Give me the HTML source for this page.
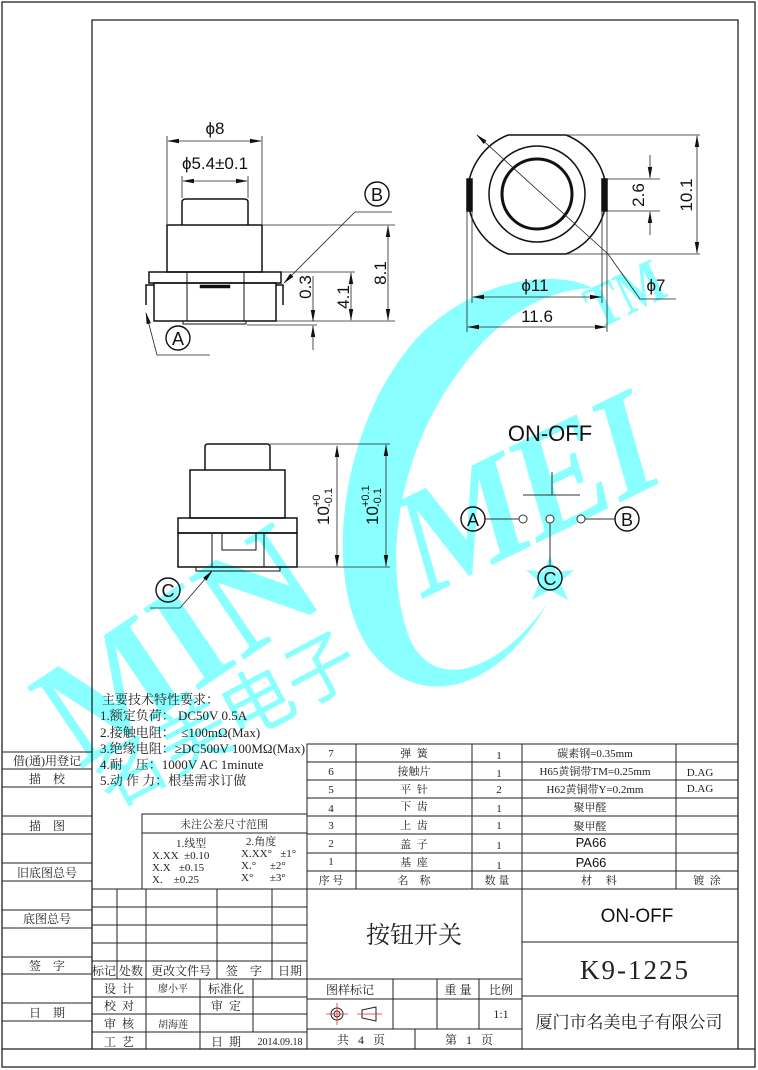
<!DOCTYPE html>
<html><head><meta charset="utf-8"><style>
html,body{margin:0;padding:0;background:#fff;}
svg{display:block;white-space:pre;}
text{white-space:pre;}
.s{font-family:"Liberation Sans",sans-serif;fill:#111;}
.c{font-family:"Liberation Serif","Noto Serif CJK SC",serif;fill:#222;}
.w{font-family:"Liberation Serif",serif;font-weight:bold;fill:#8affff;}
</style></head><body>
<svg width="758" height="1070" viewBox="0 0 758 1070" xmlns="http://www.w3.org/2000/svg" xml:space="preserve">
<defs>
<marker id="ar" markerWidth="12" markerHeight="6" refX="11" refY="3" orient="auto-start-reverse" markerUnits="userSpaceOnUse"><path d="M0,0.8 L12,3 L0,5.2 Z" fill="#111"/></marker>
</defs>
<!-- watermark -->
<g>
<path d="M548,602 C500,690 420,715 370,650 C320,580 340,420 420,335 C480,275 560,270 592,288 C545,290 500,315 460,370 C400,450 380,560 410,640 C440,700 510,660 548,602 Z" fill="#8affff"/>
<text class="w" x="0" y="0" font-size="150" textLength="300" lengthAdjust="spacingAndGlyphs" transform="translate(80,770) rotate(-34)">MIN</text>
<text class="w" x="0" y="0" font-size="150" textLength="270" lengthAdjust="spacingAndGlyphs" transform="translate(420,600) rotate(-26) skewX(-10)">MEI</text>
<text class="w" x="0" y="0" font-size="62" textLength="80" lengthAdjust="spacingAndGlyphs" transform="translate(598,330) rotate(-26)">TM</text>
<text x="0" y="0" font-size="72" fill="#8affff" font-family="'Noto Sans CJK SC',sans-serif" transform="translate(110,810) rotate(-28)">名美电子</text>
<polygon points="550,555 556,572 574,570 560,582 568,600 550,590 532,600 540,582 526,570 544,572" fill="#8affff"/>
</g>

<g stroke="#222" fill="none" stroke-width="1">
<rect x="2" y="2" width="753" height="1065" stroke-width="1.3"/>
<polyline points="92,1049 92,20 738,20 738,1049" stroke-width="1.3"/>
<line x1="2" y1="1049" x2="755" y2="1049" stroke-width="1.3"/>
<line x1="2" y1="752" x2="92" y2="752"/><line x1="2" y1="769" x2="92" y2="769"/>
<line x1="2" y1="787" x2="92" y2="787"/><line x1="2" y1="816" x2="92" y2="816"/>
<line x1="2" y1="834" x2="92" y2="834"/><line x1="2" y1="863" x2="92" y2="863"/>
<line x1="2" y1="881" x2="92" y2="881"/><line x1="2" y1="910" x2="92" y2="910"/>
<line x1="2" y1="928" x2="92" y2="928"/><line x1="2" y1="957" x2="92" y2="957"/>
<line x1="2" y1="974" x2="92" y2="974"/><line x1="2" y1="1003" x2="92" y2="1003"/>
<line x1="2" y1="1021" x2="92" y2="1021"/>
<rect x="307" y="744" width="431" height="145"/>
<line x1="307" y1="762" x2="738" y2="762"/><line x1="307" y1="780" x2="738" y2="780"/>
<line x1="307" y1="798" x2="738" y2="798"/><line x1="307" y1="816" x2="738" y2="816"/>
<line x1="307" y1="834" x2="738" y2="834"/><line x1="307" y1="853" x2="738" y2="853"/>
<line x1="307" y1="871" x2="738" y2="871"/>
<line x1="356" y1="744" x2="356" y2="889"/><line x1="472" y1="744" x2="472" y2="889"/>
<line x1="522" y1="744" x2="522" y2="1049"/><line x1="676" y1="744" x2="676" y2="889"/>
<polyline points="142,889 142,814 307,814"/><line x1="142" y1="833" x2="307" y2="833"/>
<line x1="92" y1="889" x2="738" y2="889"/>
<line x1="92" y1="907" x2="307" y2="907"/><line x1="92" y1="925" x2="307" y2="925"/>
<line x1="92" y1="943" x2="307" y2="943"/><line x1="92" y1="961" x2="307" y2="961"/>
<line x1="92" y1="979" x2="307" y2="979"/><line x1="92" y1="997" x2="307" y2="997"/>
<line x1="92" y1="1014" x2="307" y2="1014"/><line x1="92" y1="1032" x2="307" y2="1032"/>
<line x1="117" y1="889" x2="117" y2="979"/><line x1="146" y1="889" x2="146" y2="1049"/>
<line x1="217" y1="889" x2="217" y2="979"/><line x1="272" y1="889" x2="272" y2="979"/>
<line x1="200" y1="979" x2="200" y2="1049"/><line x1="253" y1="979" x2="253" y2="1032"/>
<line x1="307" y1="889" x2="307" y2="1049"/>
<line x1="307" y1="979" x2="522" y2="979"/><line x1="307" y1="999" x2="522" y2="999"/>
<line x1="307" y1="1029" x2="522" y2="1029"/>
<line x1="393" y1="979" x2="393" y2="1029"/><line x1="437" y1="979" x2="437" y2="1029"/>
<line x1="479" y1="979" x2="479" y2="1029"/><line x1="415" y1="1029" x2="415" y2="1049"/>
<line x1="522" y1="942" x2="738" y2="942"/><line x1="522" y1="996" x2="738" y2="996"/>
</g>

<g stroke="#222" fill="none">
<circle cx="337" cy="1014" r="6"/><circle cx="337" cy="1014" r="3"/>
<path d="M362,1010 L376,1007 L376,1021 L362,1018 Z"/>
</g>
<g stroke="#e22" stroke-width="0.8"><line x1="326" y1="1014" x2="348" y2="1014"/><line x1="337" y1="1003" x2="337" y2="1025"/><line x1="357" y1="1014" x2="382" y2="1014"/></g>

<g stroke="#111" fill="none" stroke-width="1.5">
<path d="M182,225 L182,202 Q182,199 186,199 L244,199 Q248,199 248,202 L248,225"/>
<rect x="167" y="225" width="95" height="47"/>
<rect x="149" y="272" width="132" height="11"/>
<rect x="154" y="283" width="122" height="38"/>
<line x1="187" y1="272" x2="187" y2="321" stroke-width="1"/><line x1="244" y1="272" x2="244" y2="321" stroke-width="1"/>
<rect x="200" y="285" width="30" height="3" fill="#111" stroke-width="0.5"/>
<path d="M183,321 L183,324 L246,324 L246,321" stroke-width="1"/>
<path d="M154,285 L146,285 L146,305" /><path d="M276,285 L283,285 L283,305"/>
</g>
<g stroke="#222" fill="none" stroke-width="0.8">
<line x1="167" y1="224" x2="167" y2="136"/><line x1="262" y1="224" x2="262" y2="136"/>
<line x1="168" y1="141" x2="261" y2="141" marker-start="url(#ar)" marker-end="url(#ar)"/>
<line x1="182" y1="198" x2="182" y2="176"/><line x1="248" y1="198" x2="248" y2="176"/>
<line x1="183" y1="181" x2="247" y2="181" marker-start="url(#ar)" marker-end="url(#ar)"/>
<line x1="262" y1="225" x2="395" y2="225"/><line x1="281" y1="272" x2="355" y2="272"/>
<line x1="276" y1="321" x2="395" y2="321"/><line x1="247" y1="325" x2="317" y2="325"/>
<line x1="388" y1="226" x2="388" y2="320" marker-start="url(#ar)" marker-end="url(#ar)"/>
<line x1="351" y1="273" x2="351" y2="320" marker-start="url(#ar)" marker-end="url(#ar)"/>
<line x1="313" y1="276" x2="313" y2="321" marker-end="url(#ar)"/>
<line x1="313" y1="350" x2="313" y2="326" marker-end="url(#ar)"/>
<polyline points="392,212 355,212 284,283" marker-end="url(#ar)"/>
<polyline points="210,355 157,355 146,313" marker-end="url(#ar)"/>
</g>
<g class="s" font-size="17">
<text x="215" y="134" text-anchor="middle">ϕ8</text>
<text x="215" y="169" text-anchor="middle">ϕ5.4±0.1</text>
<text transform="translate(386,273) rotate(-90)" text-anchor="middle">8.1</text>
<text transform="translate(349,297) rotate(-90)" text-anchor="middle">4.1</text>
<text transform="translate(311,287) rotate(-90)" text-anchor="middle">0.3</text>
</g>
<g stroke="#111" fill="none" stroke-width="1.4">
<circle cx="377" cy="194" r="12"/><circle cx="178" cy="338" r="12"/>
</g>
<g class="s" font-size="18" text-anchor="middle"><text x="377" y="201">B</text><text x="178" y="345">A</text></g>

<g stroke="#111" fill="none" stroke-width="1.5">
<path d="M508,135 L566,135 A64,64 0 0 1 566,254 L508,254 A64,64 0 0 1 508,135 Z"/>
<circle cx="537" cy="194" r="48"/>
<circle cx="537" cy="194" r="35" stroke-width="3"/>
<rect x="467" y="179" width="5" height="32" fill="#111"/><rect x="602" y="179" width="5" height="32" fill="#111"/>
</g>
<g stroke="#222" fill="none" stroke-width="0.8">
<line x1="607" y1="179" x2="660" y2="179"/><line x1="607" y1="211" x2="660" y2="211"/>
<line x1="650" y1="155" x2="650" y2="178" marker-end="url(#ar)"/><line x1="650" y1="235" x2="650" y2="212" marker-end="url(#ar)"/>
<line x1="567" y1="135" x2="700" y2="135"/><line x1="567" y1="254" x2="700" y2="254"/>
<line x1="697" y1="136" x2="697" y2="253" marker-start="url(#ar)" marker-end="url(#ar)"/>
<line x1="477" y1="135" x2="608" y2="254" marker-start="url(#ar)"/><polyline points="608,254 640,299 676,299"/>
<line x1="472" y1="211" x2="472" y2="303"/><line x1="602" y1="211" x2="602" y2="303"/>
<line x1="473" y1="297" x2="601" y2="297" marker-start="url(#ar)" marker-end="url(#ar)"/>
<line x1="467" y1="211" x2="467" y2="332"/><line x1="607" y1="211" x2="607" y2="332"/>
<line x1="468" y1="327" x2="606" y2="327" marker-start="url(#ar)" marker-end="url(#ar)"/>
</g>
<g class="s" font-size="17">
<text x="535" y="291" text-anchor="middle">ϕ11</text>
<text x="537" y="322" text-anchor="middle">11.6</text>
<text x="656" y="291" text-anchor="middle">ϕ7</text>
<text transform="translate(644,195) rotate(-90)" text-anchor="middle">2.6</text>
<text transform="translate(692,195) rotate(-90)" text-anchor="middle">10.1</text>
</g>

<g stroke="#111" fill="none" stroke-width="1.5">
<path d="M205,470 L205,447 Q205,444 208,444 L267,444 Q270,444 270,447 L270,470"/>
<rect x="190" y="470" width="95" height="48"/>
<rect x="178" y="518" width="119" height="15"/>
<rect x="178" y="533" width="119" height="34"/>
<line x1="212" y1="533" x2="212" y2="567" stroke-width="1"/><line x1="264" y1="533" x2="264" y2="567" stroke-width="1"/>
<rect x="222" y="533" width="34" height="17" stroke-width="1"/>
<rect x="196" y="567" width="84" height="4" stroke-width="1"/>
</g>
<g stroke="#222" fill="none" stroke-width="0.8">
<line x1="270" y1="444" x2="390" y2="444"/><line x1="297" y1="567" x2="390" y2="567"/>
<line x1="337" y1="446" x2="337" y2="566" marker-start="url(#ar)" marker-end="url(#ar)"/>
<line x1="386" y1="445" x2="386" y2="566" marker-start="url(#ar)" marker-end="url(#ar)"/>
<polyline points="150,608 180,608 212,571" marker-end="url(#ar)"/>
</g>
<g class="s">
<text transform="translate(329,525) rotate(-90)" font-size="17">10</text>
<text transform="translate(320,507) rotate(-90)" font-size="11">+0</text>
<text transform="translate(332,507) rotate(-90)" font-size="11">-0.1</text>
<text transform="translate(378,525) rotate(-90)" font-size="17">10</text>
<text transform="translate(369,507) rotate(-90)" font-size="11">+0.1</text>
<text transform="translate(381,507) rotate(-90)" font-size="11">-0.1</text>
</g>
<circle cx="168" cy="590" r="12" stroke="#111" stroke-width="1.4" fill="none"/>
<text class="s" x="168" y="597" font-size="18" text-anchor="middle">C</text>

<text class="s" x="550" y="441" font-size="22" text-anchor="middle">ON-OFF</text>
<g stroke="#333" fill="none" stroke-width="1">
<line x1="552" y1="472" x2="552" y2="495"/><line x1="523" y1="495" x2="580" y2="495"/>
<line x1="485" y1="519" x2="519" y2="519"/><line x1="585" y1="519" x2="615" y2="519"/>
<line x1="550" y1="523" x2="550" y2="565"/>
<circle cx="523" cy="519" r="4" fill="#fff"/><circle cx="550" cy="519" r="4" fill="#fff"/><circle cx="581" cy="519" r="4" fill="#fff"/>
</g>
<g stroke="#111" fill="none" stroke-width="1.4"><circle cx="473" cy="519" r="12"/><circle cx="627" cy="519" r="12"/><circle cx="550" cy="578" r="12"/></g>
<g class="s" font-size="18" text-anchor="middle"><text x="473" y="526">A</text><text x="627" y="526">B</text><text x="550" y="585">C</text></g>

<g class="c" font-size="13">
<text x="102" y="704">主要技术特性要求：</text>
<text x="100" y="720">1.额定负荷： DC50V 0.5A</text>
<text x="100" y="737">2.接触电阻：  ≤100mΩ(Max)</text>
<text x="100" y="753">3.绝缘电阻：≥DC500V 100MΩ(Max)</text>
<text x="100" y="769">4.耐    压：1000V AC 1minute</text>
<text x="100" y="785">5.动 作 力：根基需求订做</text>
</g>
<g class="c" font-size="11">
<text x="224" y="828" text-anchor="middle">未注公差尺寸范围</text>
<text x="176" y="847">1.线型</text><text x="246" y="845">2.角度</text>
<text x="152" y="859">X.XX  ±0.10</text><text x="241" y="857">X.XX°   ±1°</text>
<text x="152" y="871">X.X   ±0.15</text><text x="241" y="869">X.°     ±2°</text>
<text x="152" y="883">X.    ±0.25</text><text x="241" y="881">X°      ±3°</text>
</g>
<g class="c" font-size="12" text-anchor="middle">
<text x="47" y="765">借(通)用登记</text><text x="47" y="783">描    校</text>
<text x="47" y="830">描    图</text><text x="47" y="877">旧底图总号</text>
<text x="47" y="923">底图总号</text><text x="47" y="970">签    字</text>
<text x="47" y="1017">日    期</text>
</g>
<g class="c" font-size="12" text-anchor="middle">
<text x="104" y="975">标记</text><text x="131" y="975">处数</text><text x="181" y="975">更改文件号</text>
<text x="244" y="975">签    字</text><text x="290" y="975">日期</text>
<text x="119" y="993">设  计</text><text x="226" y="993">标准化</text>
<text x="119" y="1010">校  对</text><text x="226" y="1010">审  定</text>
<text x="119" y="1028">审  核</text><text x="119" y="1046">工  艺</text><text x="226" y="1046">日  期</text>
</g>
<g class="c" font-size="10" text-anchor="middle">
<text x="173" y="992">廖小平</text><text x="173" y="1028">胡海莲</text><text x="280" y="1045">2014.09.18</text>
</g>
<g class="c" font-size="11" text-anchor="middle">
<text x="331" y="757">7</text><text x="414" y="757">弹  簧</text><text x="499" y="759">1</text><text x="595" y="757">碳素钢=0.35mm</text>
<text x="331" y="775">6</text><text x="414" y="775">接触片</text><text x="499" y="777">1</text><text x="595" y="775">H65黄铜带TM=0.25mm</text><text x="700" y="776">D.AG</text>
<text x="331" y="793">5</text><text x="414" y="793">平  针</text><text x="499" y="793">2</text><text x="595" y="793">H62黄铜带Y=0.2mm</text><text x="700" y="792">D.AG</text>
<text x="331" y="812">4</text><text x="414" y="810">下  齿</text><text x="499" y="812">1</text><text x="590" y="811">聚甲醛</text>
<text x="331" y="829">3</text><text x="414" y="829">上  齿</text><text x="499" y="829">1</text><text x="590" y="830">聚甲醛</text>
<text x="331" y="847">2</text><text x="414" y="848">盖  子</text><text x="499" y="849">1</text>
<text x="331" y="865">1</text><text x="414" y="866">基  座</text><text x="499" y="869">1</text>
<text x="331" y="884">序 号</text><text x="414" y="884">名    称</text><text x="497" y="884">数 量</text><text x="599" y="884">材     料</text><text x="707" y="884">镀  涂</text>
</g>
<g class="s" font-size="13" text-anchor="middle"><text x="591" y="847">PA66</text><text x="591" y="867">PA66</text></g>
<text class="c" x="414" y="943" font-size="24" text-anchor="middle">按钮开关</text>
<text class="s" x="637" y="922" font-size="19" text-anchor="middle">ON-OFF</text>
<text class="c" x="635" y="979" font-size="27" text-anchor="middle" letter-spacing="2">K9-1225</text>
<text class="c" x="629" y="1028" font-size="17" text-anchor="middle">厦门市名美电子有限公司</text>
<g class="c" font-size="12" text-anchor="middle">
<text x="350" y="994">图样标记</text><text x="458" y="994">重 量</text><text x="501" y="994">比例</text>
<text x="501" y="1018">1:1</text>
<text x="361" y="1044">共   4   页</text><text x="469" y="1044">第   1   页</text>
</g>
</svg>
</body></html>
